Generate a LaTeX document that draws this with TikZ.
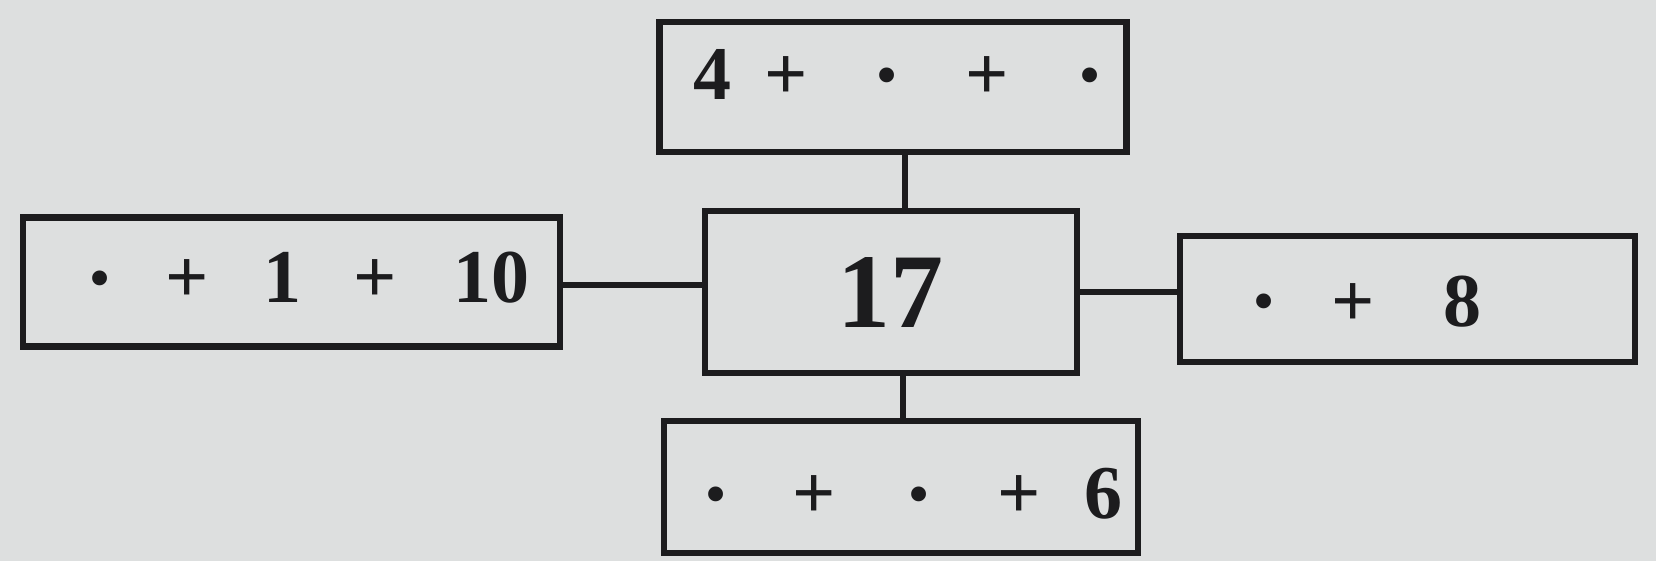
\documentclass[tikz,border=0pt]{standalone}
\usepackage{fontspec}
\setmainfont{Liberation Serif}
\usepackage{graphicx}
\definecolor{paper}{RGB}{221,223,223}
\definecolor{ink}{RGB}{28,28,30}
\newcommand{\putat}[2]{\makebox[0pt][l]{\hspace*{#1pt}\makebox[0pt][c]{#2}}}
\newcommand{\dt}{\raisebox{6pt}{\scalebox{0.72}{\textbullet}}}
\begin{document}
\begin{tikzpicture}[x=1pt,y=-1pt,
  box/.style={draw=ink, line width=6.5pt, rectangle, inner sep=0pt, text depth=0pt,
    font=\fontsize{76}{80}\selectfont\bfseries, text=ink},
  conn/.style={draw=ink, line width=5.5pt}]
\useasboundingbox (0,0) rectangle (1656,561);
\fill[paper] (0,0) rectangle (1656,561);
\node[box, minimum width=467pt, minimum height=130pt, text height=26pt] (top) at (893,87)
  {\makebox[467pt][l]{\putat{53}{4}\putat{127}{+}\putat{228}{\dt}\putat{328}{+}\putat{431}{\dt}}};
\node[box, minimum width=537pt, minimum height=129pt, text height=40pt] (lft) at (291.5,282)
  {\makebox[537pt][l]{\putat{77}{\dt}\putat{164}{+}\putat{260}{1}\putat{352}{+}\putat{468}{10}}};
\node[box, minimum width=372pt, minimum height=162pt, text height=70pt,
  font=\fontsize{106}{110}\selectfont\bfseries] (ctr) at (891,292)
  {\makebox[372pt][l]{\putat{185}{17}}};
\node[box, minimum width=455pt, minimum height=126pt, text height=54pt] (rgt) at (1407.5,299)
  {\makebox[455pt][l]{\putat{84}{\dt}\putat{173}{+}\putat{283}{8}}};
\node[box, minimum width=474pt, minimum height=132pt, text height=62pt] (bot) at (901,487)
  {\makebox[474pt][l]{\putat{52}{\dt}\putat{150}{+}\putat{255}{\dt}\putat{355}{+}\putat{440}{6}}};
\coordinate (v1) at (905,0);
\coordinate (v2) at (903,0);
\coordinate (h1) at (0,285);
\coordinate (h2) at (0,292);
\draw[conn] (top.south -| v1) -- (ctr.north -| v1);
\draw[conn] (lft.east |- h1) -- (ctr.west |- h1);
\draw[conn] (ctr.east |- h2) -- (rgt.west |- h2);
\draw[conn] (ctr.south -| v2) -- (bot.north -| v2);
\end{tikzpicture}
\end{document}
